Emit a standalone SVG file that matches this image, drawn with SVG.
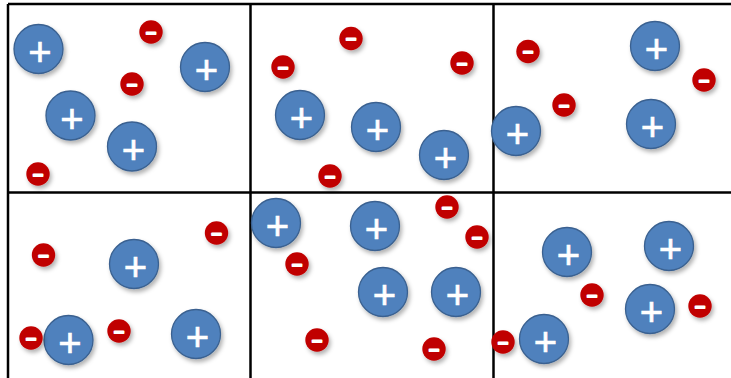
<svg xmlns="http://www.w3.org/2000/svg" width="731" height="378" viewBox="0 0 731 378">
<style>
.grid{stroke:#000;stroke-width:2.5;fill:none}
.pos circle{fill:#4f81bd;stroke:#3a6190;stroke-width:1.3;filter:url(#sh)}
.neg circle{fill:#c00000;filter:url(#sh)}
.pos text{font-family:"Liberation Sans",Arial,sans-serif;font-size:40px;fill:#fff;stroke:#fff;stroke-width:0.7;text-anchor:middle}
.neg text{font-family:"Liberation Sans",Arial,sans-serif;font-size:18px;fill:#fff;stroke:#fff;stroke-width:2;stroke-linejoin:round;text-anchor:middle}
</style>
<defs>
<filter id="sh" x="-30%" y="-30%" width="170%" height="170%">
<feDropShadow dx="2" dy="3" stdDeviation="2" flood-color="#000" flood-opacity="0.3"/>
</filter>
</defs>
<rect width="731" height="378" fill="#fff"/>
<g id="grid" class="grid">
<line x1="8" y1="4" x2="731" y2="4"/>
<line x1="8" y1="192.5" x2="731" y2="192.5"/>
<line x1="8" y1="4" x2="8" y2="378"/>
<line x1="250.5" y1="4" x2="250.5" y2="378"/>
<line x1="493.5" y1="4" x2="493.5" y2="378"/>
</g>
<!-- cell 1 -->
<g id="p1" class="pos"><circle cx="38.5" cy="49" r="24.5"/><text x="40" y="66">+</text></g>
<g id="p2" class="pos"><circle cx="205" cy="67" r="24.5"/><text x="206.5" y="84">+</text></g>
<g id="p3" class="pos"><circle cx="70.5" cy="115.5" r="24.5"/><text x="72" y="132.5">+</text></g>
<g id="p4" class="pos"><circle cx="132" cy="146.5" r="24.5"/><text x="133.5" y="163.5">+</text></g>
<g id="n1" class="neg"><circle cx="151" cy="32" r="11.7"/><text x="151" y="38.5">−</text></g>
<g id="n2" class="neg"><circle cx="132" cy="84" r="11.7"/><text x="132" y="90.5">−</text></g>
<g id="n3" class="neg"><circle cx="38" cy="174" r="11.7"/><text x="38" y="180.5">−</text></g>
<!-- cell 2 -->
<g id="p5" class="pos"><circle cx="300" cy="115" r="24.5"/><text x="301.5" y="132">+</text></g>
<g id="p6" class="pos"><circle cx="376" cy="127" r="24.5"/><text x="377.5" y="144">+</text></g>
<g id="p7" class="pos"><circle cx="444" cy="155" r="24.5"/><text x="445.5" y="172">+</text></g>
<g id="n4" class="neg"><circle cx="351" cy="38.5" r="11.7"/><text x="351" y="45">−</text></g>
<g id="n5" class="neg"><circle cx="283" cy="67" r="11.7"/><text x="283" y="73.5">−</text></g>
<g id="n6" class="neg"><circle cx="462" cy="63" r="11.7"/><text x="462" y="69.5">−</text></g>
<g id="n7" class="neg"><circle cx="330" cy="176" r="11.7"/><text x="330" y="182.5">−</text></g>
<!-- cell 3 -->
<g id="p8" class="pos"><circle cx="655" cy="46" r="24.5"/><text x="656.5" y="63">+</text></g>
<g id="p9" class="pos"><circle cx="516" cy="131" r="24.5"/><text x="517.5" y="148">+</text></g>
<g id="p10" class="pos"><circle cx="651" cy="124" r="24.5"/><text x="652.5" y="141">+</text></g>
<g id="n8" class="neg"><circle cx="528" cy="51.5" r="11.7"/><text x="528" y="58">−</text></g>
<g id="n9" class="neg"><circle cx="564" cy="105" r="11.7"/><text x="564" y="111.5">−</text></g>
<g id="n10" class="neg"><circle cx="704" cy="80" r="11.7"/><text x="704" y="86.5">−</text></g>
<!-- cell 4 -->
<g id="p11" class="pos"><circle cx="134" cy="264" r="24.5"/><text x="135.5" y="281">+</text></g>
<g id="p12" class="pos"><circle cx="68.5" cy="340" r="24.5"/><text x="70" y="357">+</text></g>
<g id="p13" class="pos"><circle cx="196" cy="334" r="24.5"/><text x="197.5" y="351">+</text></g>
<g id="n11" class="neg"><circle cx="43.5" cy="255" r="11.7"/><text x="43.5" y="261.5">−</text></g>
<g id="n12" class="neg"><circle cx="216.5" cy="233" r="11.7"/><text x="216.5" y="239.5">−</text></g>
<g id="n13" class="neg"><circle cx="31" cy="338" r="11.7"/><text x="31" y="344.5">−</text></g>
<g id="n14" class="neg"><circle cx="119" cy="331" r="11.7"/><text x="119" y="337.5">−</text></g>
<!-- cell 5 -->
<g id="p14" class="pos"><circle cx="276" cy="223" r="24.5"/><text x="277.5" y="240">+</text></g>
<g id="p15" class="pos"><circle cx="375" cy="226" r="24.5"/><text x="376.5" y="243">+</text></g>
<g id="p16" class="pos"><circle cx="383" cy="292" r="24.5"/><text x="384.5" y="309">+</text></g>
<g id="p17" class="pos"><circle cx="456" cy="292" r="24.5"/><text x="457.5" y="309">+</text></g>
<g id="n15" class="neg"><circle cx="447" cy="207" r="11.7"/><text x="447" y="213.5">−</text></g>
<g id="n16" class="neg"><circle cx="477" cy="237" r="11.7"/><text x="477" y="243.5">−</text></g>
<g id="n17" class="neg"><circle cx="297" cy="264" r="11.7"/><text x="297" y="270.5">−</text></g>
<g id="n18" class="neg"><circle cx="317" cy="340" r="11.7"/><text x="317" y="346.5">−</text></g>
<g id="n19" class="neg"><circle cx="434" cy="349" r="11.7"/><text x="434" y="355.5">−</text></g>
<!-- cell 6 -->
<g id="p18" class="pos"><circle cx="567" cy="252" r="24.5"/><text x="568.5" y="269">+</text></g>
<g id="p19" class="pos"><circle cx="669" cy="246" r="24.5"/><text x="670.5" y="263">+</text></g>
<g id="p20" class="pos"><circle cx="650" cy="309" r="24.5"/><text x="651.5" y="326">+</text></g>
<g id="p21" class="pos"><circle cx="544" cy="339" r="24.5"/><text x="545.5" y="356">+</text></g>
<g id="n20" class="neg"><circle cx="592" cy="295" r="11.7"/><text x="592" y="301.5">−</text></g>
<g id="n21" class="neg"><circle cx="700" cy="306" r="11.7"/><text x="700" y="312.5">−</text></g>
<g id="n22" class="neg"><circle cx="503" cy="342" r="11.7"/><text x="503" y="348.5">−</text></g>
</svg>
